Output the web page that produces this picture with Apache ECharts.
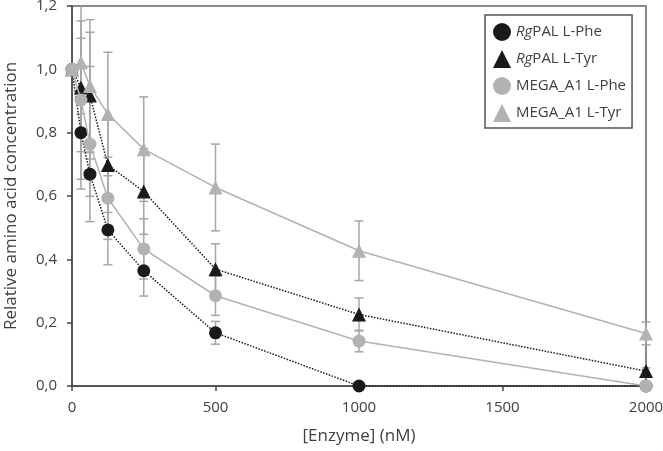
<!DOCTYPE html>
<html><head><meta charset="utf-8">
<script src="https://cdn.jsdelivr.net/npm/echarts@6/dist/echarts.min.js"></script>
<style>html,body{margin:0;padding:0;background:#fff}#c{width:663px;height:451px}</style>
</head><body><div id="c"></div>
<script>
const xVals = [0, 31.25, 62.5, 125, 250, 500, 1000, 2000];
const seriesNames = ['RgPAL L-Phe', 'RgPAL L-Tyr', 'MEGA_A1 L-Phe', 'MEGA_A1 L-Tyr'];
const rgPhe = [1.0, 0.80, 0.669, 0.493, 0.364, 0.168, 0.0, 0.0];
const rgPheErr = [0, 0.06, 0.07, 0.11, 0.08, 0.036, 0, 0];
const rgTyr = [1.0, 0.943, 0.917, 0.698, 0.614, 0.369, 0.226, 0.047];
const rgTyrErr = [0, 0.155, 0.2, 0.15, 0.135, 0.08, 0.052, 0.01];
const megaPhe = [1.0, 0.903, 0.764, 0.593, 0.433, 0.285, 0.142, 0.0];
const megaPheErr = [0, 0.25, 0.245, 0.13, 0.095, 0.062, 0.034, 0];
const megaTyr = [1.0, 1.022, 0.947, 0.859, 0.748, 0.627, 0.427, 0.166];
const megaTyrErr = [0, 0.40, 0.21, 0.195, 0.165, 0.137, 0.094, 0.036];
const xTicks = [0, 500, 1000, 1500, 2000];
const yTicks = [0, 0.2, 0.4, 0.6, 0.8, 1.0, 1.2];

const BLACK = '#1a1a1a', GREY = '#b2b2b2', ERRC = '#a6a6a6';
const FONT = 'Open Sans';
const TXT = '#404040';

function pts(ys) { return xVals.map((x, i) => [x, ys[i]]); }
function errPts(ys, es) { return xVals.map((x, i) => [x, ys[i], es[i]]); }

function errSeries(ys, es) {
  return {
    type: 'custom', z: 1, silent: true,
    data: errPts(ys, es),
    renderItem: function (params, api) {
      const x = api.value(0), y = api.value(1), e = api.value(2);
      if (!e) return null;
      const cs = params.coordSys;
      const top = api.coord([x, y + e]);
      const bot = api.coord([x, y - e]);
      const hw = 4.5;
      const children = [];
      let ty = top[1], by = bot[1];
      const clipTop = ty < cs.y, clipBot = by > cs.y + cs.height;
      if (clipTop) ty = cs.y;
      if (clipBot) by = cs.y + cs.height;
      const st = { stroke: ERRC, lineWidth: 1.5 };
      children.push({ type: 'line', shape: { x1: top[0], y1: ty, x2: top[0], y2: by }, style: st });
      if (!clipTop) children.push({ type: 'line', shape: { x1: top[0] - hw, y1: ty, x2: top[0] + hw, y2: ty }, style: st });
      if (!clipBot) children.push({ type: 'line', shape: { x1: bot[0] - hw, y1: by, x2: bot[0] + hw, y2: by }, style: st });
      return { type: 'group', children: children };
    }
  };
}

function lineSeries(name, ys, color, dotted, symbol, size, z) {
  return {
    name: name, type: 'line', data: pts(ys), z: z,
    symbol: symbol, symbolSize: size, showSymbol: true,
    itemStyle: { color: color },
    lineStyle: { color: dotted ? BLACK : GREY, width: 1.5, type: dotted ? 'dotted' : 'solid' },
    emphasis: { disabled: true }, animation: false
  };
}

const chart = echarts.init(document.getElementById('c'));
chart.setOption({
  animation: false,
  grid: { left: 72, right: 17, top: 6, bottom: 65, containLabel: false, outerBoundsMode: 'none',
    show: true, borderColor: '#666', borderWidth: 1.5, backgroundColor: 'transparent' },
  xAxis: {
    type: 'value', min: 0, max: 2000, interval: 500,
    name: '[Enzyme] (nM)', nameLocation: 'middle', nameGap: 42,
    nameTextStyle: { fontFamily: FONT, fontSize: 17, color: TXT },
    axisLine: { show: true, onZero: false, lineStyle: { color: '#444', width: 1.5 } },
    axisTick: { show: true, inside: false, length: 5, lineStyle: { color: '#444', width: 1.5 } },
    axisLabel: { fontFamily: FONT, fontSize: 15, color: TXT, margin: 14,
      formatter: v => xTicks.indexOf(v) >= 0 ? String(v) : '' },
    splitLine: { show: false }
  },
  yAxis: {
    type: 'value', min: 0, max: 1.2, interval: 0.2,
    name: 'Relative amino acid concentration', nameLocation: 'middle', nameGap: 52,
    nameTextStyle: { fontFamily: FONT, fontSize: 17, color: TXT },
    axisLine: { show: true, lineStyle: { color: '#444', width: 1.5 } },
    axisTick: { show: true, inside: false, length: 5, lineStyle: { color: '#444', width: 1.5 } },
    axisLabel: { fontFamily: FONT, fontSize: 15, color: TXT, margin: 15,
      formatter: v => {
        const t = yTicks.find(k => Math.abs(k - v) < 1e-9);
        return t === undefined ? '' : t.toFixed(1).replace('.', ',');
      } },
    splitLine: { show: false }
  },
  legend: {
    orient: 'vertical', left: 485, top: 15,
    backgroundColor: '#fff', borderColor: '#555', borderWidth: 1.5,
    padding: [8, 6, 6, 8], itemGap: 9, itemWidth: 18, itemHeight: 18,
    data: [
      { name: seriesNames[0], icon: 'circle', itemStyle: { color: BLACK } },
      { name: seriesNames[1], icon: 'triangle', itemStyle: { color: BLACK } },
      { name: seriesNames[2], icon: 'circle', itemStyle: { color: GREY } },
      { name: seriesNames[3], icon: 'triangle', itemStyle: { color: GREY } }
    ],
    formatter: function (name) {
      if (name.indexOf('Rg') === 0) return '{i|Rg}{n|' + name.slice(2) + '}';
      return '{n|' + name + '}';
    },
    textStyle: {
      fontFamily: FONT, fontSize: 15, color: TXT, lineHeight: 18,
      rich: {
        i: { fontFamily: FONT, fontSize: 15, color: TXT, fontStyle: 'italic', lineHeight: 18 },
        n: { fontFamily: FONT, fontSize: 15, color: TXT, lineHeight: 18 }
      }
    },
    selectedMode: false
  },
  series: [
    errSeries(rgPhe, rgPheErr),
    errSeries(rgTyr, rgTyrErr),
    errSeries(megaPhe, megaPheErr),
    errSeries(megaTyr, megaTyrErr),
    lineSeries(seriesNames[0], rgPhe, BLACK, true, 'circle', 13, 3),
    lineSeries(seriesNames[1], rgTyr, BLACK, true, 'triangle', 14, 4),
    lineSeries(seriesNames[2], megaPhe, GREY, false, 'circle', 13, 5),
    lineSeries(seriesNames[3], megaTyr, GREY, false, 'triangle', 14, 6)
  ]
});
</script></body></html>
